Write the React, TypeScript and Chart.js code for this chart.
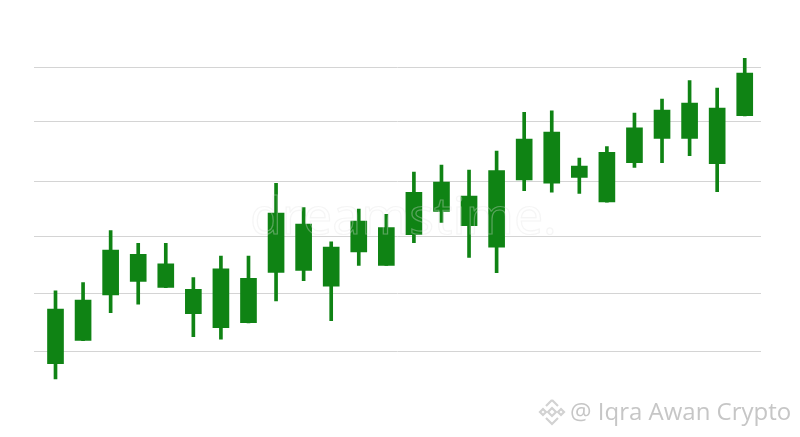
import React, { useEffect, useRef } from "react";
import { Chart, registerables } from "chart.js";

Chart.register(...registerables);

// Candles (left to right), price units
const OPEN = [97.95, 102.05, 110.0, 112.4, 111.35, 106.72, 104.26, 105.14, 113.98, 114.33, 111.53, 117.54, 115.21, 120.58, 124.68, 122.16, 118.37, 130.18, 129.6, 130.65, 126.32, 133.21, 137.49, 137.49, 133.04, 141.46];
const CLOSE = [107.54, 109.12, 117.89, 117.14, 115.49, 111.0, 114.61, 112.93, 124.39, 122.46, 118.42, 122.98, 121.81, 128.02, 129.82, 127.37, 131.81, 137.37, 138.6, 132.63, 135.04, 139.35, 142.46, 143.68, 142.81, 148.95];
const HIGH = [110.75, 112.16, 121.28, 119.07, 119.07, 113.04, 116.84, 116.84, 129.6, 125.32, 119.35, 125.09, 124.16, 131.58, 132.81, 131.93, 135.26, 142.05, 142.33, 134.04, 136.02, 141.93, 144.39, 147.6, 146.32, 151.53];
const LOW = [95.26, 102.0, 106.89, 108.37, 111.3, 102.68, 102.23, 105.1, 108.95, 112.51, 105.49, 115.21, 115.2, 119.18, 122.75, 116.61, 113.91, 128.3, 128.02, 127.84, 126.3, 132.4, 133.21, 134.44, 128.12, 141.4];
// Horizontal guide lines (as placed in the picture)
const GRID_TICKS = [100, 110.35, 120.2, 130, 140.5, 150];

const GREEN = "#0f8314";

export default function App() {
  const ref = useRef<HTMLCanvasElement | null>(null);

  useEffect(() => {
    if (!ref.current) return;
    const idx = OPEN.map((_, i) => i);
    const chart = new Chart(ref.current, {
      type: "bar",
      data: {
        datasets: [
          {
            label: "wick",
            data: idx.map((i) => ({ x: i, y: [LOW[i], HIGH[i]] })) as any,
            backgroundColor: GREEN,
            borderWidth: 0,
            barThickness: 3,
            grouped: false,
            order: 2,
          } as any,
          {
            label: "body",
            data: idx.map((i) => ({ x: i, y: [OPEN[i], CLOSE[i]] })) as any,
            backgroundColor: GREEN,
            borderWidth: 0,
            barThickness: 16,
            grouped: false,
            order: 1,
          } as any,
        ],
      },
      options: {
        responsive: false,
        animation: false,
        layout: { padding: { left: 34, right: 39, top: 44.2, bottom: 39.4 } },
        plugins: { legend: { display: false }, tooltip: { enabled: false } },
        scales: {
          x: {
            type: "linear",
            min: -0.78,
            max: 25.59,
            offset: false,
            display: false,
          },
          y: {
            type: "linear",
            min: 92,
            max: 154,
            afterBuildTicks: (axis: any) => {
              axis.ticks = GRID_TICKS.map((v) => ({ value: v }));
            },
            ticks: { display: false },
            grid: { color: "#d4d4d4", lineWidth: 1, drawTicks: false },
            border: { display: false },
          },
        },
      },
    });
    return () => chart.destroy();
  }, []);

  return (
    <div style={{ position: "absolute", left: 0, top: 0, width: 800, height: 437, background: "#fff", overflow: "hidden" }}>
      <canvas ref={ref} width={800} height={437} style={{ position: "absolute", left: 0, top: 0 }} />
      <div
        style={{
          position: "absolute",
          left: 250,
          top: 184,
          fontFamily: "'Open Sans', sans-serif",
          fontSize: 52,
          lineHeight: "60px",
          color: "rgba(255,255,255,0)",
          WebkitTextStroke: "1.2px rgba(225,225,225,0.35)",
          letterSpacing: 0,
          pointerEvents: "none",
          whiteSpace: "nowrap",
        } as any}
      >
        dreamstime.
      </div>
      <svg width="30" height="30" viewBox="0 0 30 30" style={{ position: "absolute", left: 537, top: 397 }}>
        <g fill="none" stroke="#d2d2d2" strokeWidth="2.2">
          <path d="M15 3 L21 9 M15 3 L9 9" />
          <path d="M3 15 L6 12 L9 15 L6 18 Z" />
          <path d="M21 15 L24 12 L27 15 L24 18 Z" />
          <path d="M15 11 L19 15 L15 19 L11 15 Z" />
          <path d="M9 21 L15 27 L21 21" />
        </g>
      </svg>
      <div
        style={{
          position: "absolute",
          left: 570,
          top: 395,
          fontFamily: "'Open Sans', sans-serif",
          fontSize: 24,
          lineHeight: "32px",
          color: "#c6c6c6",
          whiteSpace: "nowrap",
        }}
      >
        @ Iqra Awan Crypto
      </div>
    </div>
  );
}
